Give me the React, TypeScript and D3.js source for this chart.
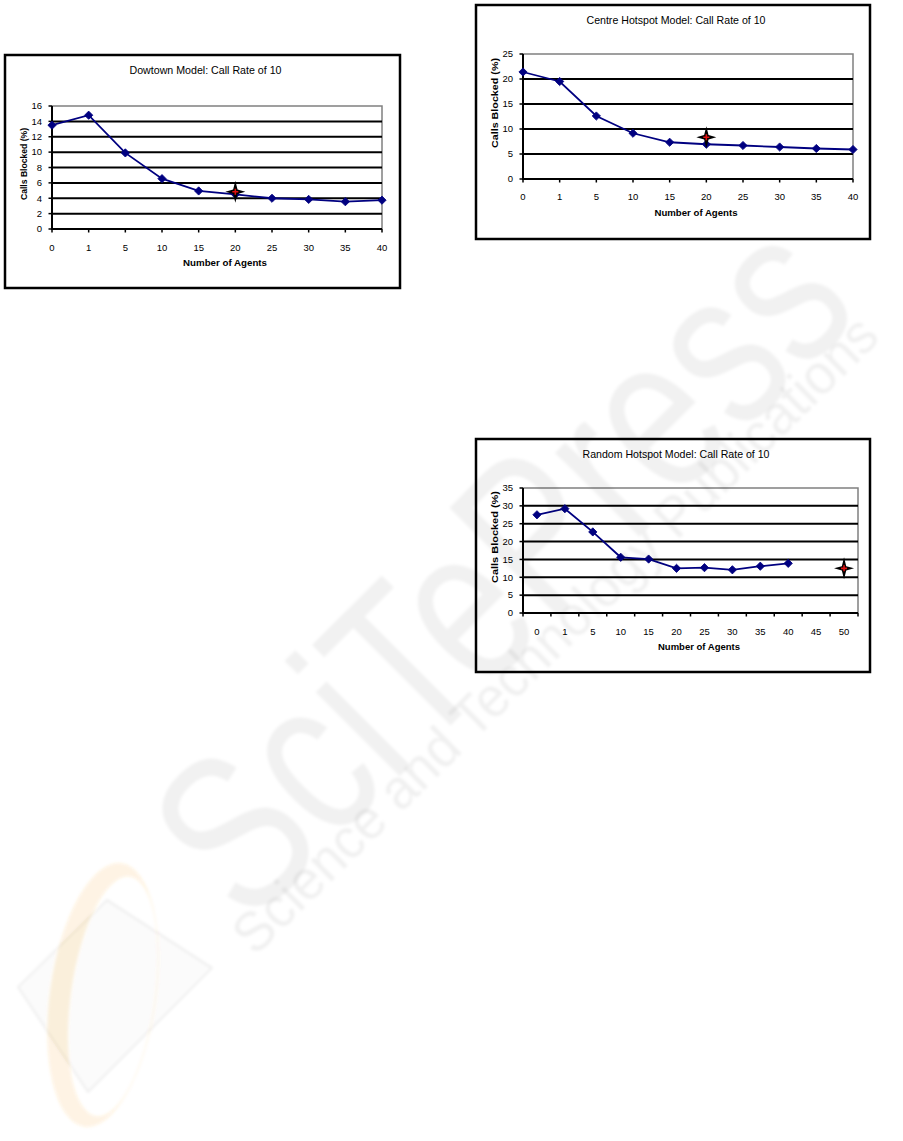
import React, { useEffect, useRef } from "react";
import * as d3 from "d3";

// Category labels for the number of agents
const agentsTen = ["0", "1", "5", "10", "15", "20", "25", "30", "35", "40"];
const agentsTwelve = ["0", "1", "5", "10", "15", "20", "25", "30", "35", "40", "45", "50"];

// Calls blocked (%) per agent count
const downtownBlocked = [13.5, 14.8, 9.9, 6.55, 4.95, 4.5, 4.0, 3.85, 3.55, 3.75];
const centreBlocked = [21.4, 19.5, 12.6, 9.15, 7.35, 6.95, 6.7, 6.4, 6.1, 5.9];
const randomBlocked = [27.5, 29.2, 22.7, 15.6, 15.1, 12.5, 12.7, 12.1, 13.1, 13.9];

// Single reference points shown with a star marker
const downtownStar = { agents: "20", blocked: 4.85 };
const centreStar = { agents: "20", blocked: 8.35 };
const randomStar = { agents: "50", blocked: 12.5 };

// Y-axis tick values
const downtownTicks = [0, 2, 4, 6, 8, 10, 12, 14, 16];
const centreTicks = [0, 5, 10, 15, 20, 25];
const randomTicks = [0, 5, 10, 15, 20, 25, 30, 35];

const titles = [
  "Dowtown Model: Call Rate of 10",
  "Centre Hotspot Model: Call Rate of 10",
  "Random Hotspot Model: Call Rate of 10",
];

type Panel = {
  title: string;
  categories: string[];
  values: number[];
  star: { agents: string; blocked: number };
  ticks: number[];
  banded: boolean;
  box: [number, number, number, number];
  plot: [number, number, number, number];
  titleY: number;
  titleLen: number;
  xLabelY: number;
  xTitle: [number, number, number];
  yTitle: [number, number, number];
};

const panels: Panel[] = [
  {
    title: titles[0],
    categories: agentsTen,
    values: downtownBlocked,
    star: downtownStar,
    ticks: downtownTicks,
    banded: false,
    box: [5, 55, 400, 288],
    plot: [52, 106, 382, 229],
    titleY: 70,
    titleLen: 152,
    xLabelY: 248,
    xTitle: [225, 263, 84],
    yTitle: [24, 164, 72],
  },
  {
    title: titles[1],
    categories: agentsTen,
    values: centreBlocked,
    star: centreStar,
    ticks: centreTicks,
    banded: false,
    box: [476, 5, 870, 239],
    plot: [523, 54, 853, 179],
    titleY: 20,
    titleLen: 179,
    xLabelY: 197,
    xTitle: [696, 213, 83],
    yTitle: [494.5, 103, 90],
  },
  {
    title: titles[2],
    categories: agentsTwelve,
    values: randomBlocked,
    star: randomStar,
    ticks: randomTicks,
    banded: true,
    box: [476, 439, 870, 672],
    plot: [523, 488, 858, 613],
    titleY: 454,
    titleLen: 187,
    xLabelY: 632,
    xTitle: [699, 647, 82],
    yTitle: [494.5, 537, 92],
  },
];

const FONT = "'Liberation Sans', Arial, sans-serif";
const NAVY = "#000080";

// Four-pointed star outline centred on the origin
function starPath(rx: number, ry: number, waist: number) {
  const p = d3.path();
  p.moveTo(0, -ry);
  p.lineTo(waist, -waist);
  p.lineTo(rx, 0);
  p.lineTo(waist, waist);
  p.lineTo(0, ry);
  p.lineTo(-waist, waist);
  p.lineTo(-rx, 0);
  p.lineTo(-waist, -waist);
  p.closePath();
  return p.toString();
}

// Closed ellipse outline centred at (cx, 0)
function ellipsePath(cx: number, rx: number, ry: number) {
  return `M${cx},${-ry}A${rx},${ry} 0 1,0 ${cx},${ry}A${rx},${ry} 0 1,0 ${cx},${-ry}Z`;
}

function drawPanel(root: d3.Selection<SVGGElement, unknown, null, undefined>, cfg: Panel) {
  const [bx0, by0, bx1, by1] = cfg.box;
  const [px0, py0, px1, py1] = cfg.plot;
  const g = root.append("g");

  g.append("rect")
    .attr("x", bx0)
    .attr("y", by0)
    .attr("width", bx1 - bx0)
    .attr("height", by1 - by0)
    .attr("fill", "#fff")
    .attr("stroke", "#000")
    .attr("stroke-width", 2.5);

  const yMax = cfg.ticks[cfg.ticks.length - 1];
  const y = d3.scaleLinear().domain([0, yMax]).range([py1, py0]);

  let xPos: (c: string) => number;
  let tickXs: number[];
  if (cfg.banded) {
    const xb = d3.scaleBand<string>().domain(cfg.categories).range([px0, px1]).padding(0);
    xPos = (c) => (xb(c) as number) + xb.bandwidth() / 2;
    tickXs = cfg.categories.map((c) => xb(c) as number).concat([px1]);
  } else {
    const xp = d3.scalePoint<string>().domain(cfg.categories).range([px0, px1]).padding(0);
    xPos = (c) => xp(c) as number;
    tickXs = cfg.categories.map((c) => xp(c) as number);
  }

  // plot area frame (top and right edges in grey)
  g.append("path")
    .attr("d", `M${px0},${py0}H${px1}V${py1}`)
    .attr("fill", "none")
    .attr("stroke", "#808080")
    .attr("stroke-width", 1.5);

  // horizontal gridlines
  g.selectAll("line.grid")
    .data(cfg.ticks.filter((t) => t > 0 && t < yMax))
    .join("line")
    .attr("class", "grid")
    .attr("x1", px0)
    .attr("x2", px1)
    .attr("y1", (d) => y(d))
    .attr("y2", (d) => y(d))
    .attr("stroke", "#000")
    .attr("stroke-width", 2);

  // axes
  g.append("line")
    .attr("x1", px0)
    .attr("x2", px0)
    .attr("y1", py0)
    .attr("y2", py1)
    .attr("stroke", "#000")
    .attr("stroke-width", 2);
  g.append("line")
    .attr("x1", px0 - 1)
    .attr("x2", px1)
    .attr("y1", py1)
    .attr("y2", py1)
    .attr("stroke", "#000")
    .attr("stroke-width", 2);

  g.selectAll("line.ytick")
    .data(cfg.ticks)
    .join("line")
    .attr("class", "ytick")
    .attr("x1", px0 - 3.5)
    .attr("x2", px0)
    .attr("y1", (d) => y(d))
    .attr("y2", (d) => y(d))
    .attr("stroke", "#000")
    .attr("stroke-width", 1.5);

  g.selectAll("line.xtick")
    .data(tickXs)
    .join("line")
    .attr("class", "xtick")
    .attr("x1", (d) => d)
    .attr("x2", (d) => d)
    .attr("y1", py1)
    .attr("y2", py1 + 3.5)
    .attr("stroke", "#000")
    .attr("stroke-width", 1.5);

  // tick labels
  g.selectAll("text.ylab")
    .data(cfg.ticks)
    .join("text")
    .attr("class", "ylab")
    .attr("x", px0 - 10)
    .attr("y", (d) => y(d))
    .attr("dy", "0.35em")
    .attr("text-anchor", "end")
    .attr("font-family", FONT)
    .attr("font-size", 9.5)
    .text((d) => String(d));

  g.selectAll("text.xlab")
    .data(cfg.categories)
    .join("text")
    .attr("class", "xlab")
    .attr("x", (d) => xPos(d))
    .attr("y", cfg.xLabelY)
    .attr("dy", "0.35em")
    .attr("text-anchor", "middle")
    .attr("font-family", FONT)
    .attr("font-size", 9.5)
    .text((d) => d);

  // titles
  g.append("text")
    .attr("x", (bx0 + bx1) / 2 + 3)
    .attr("y", cfg.titleY)
    .attr("dy", "0.35em")
    .attr("text-anchor", "middle")
    .attr("font-family", FONT)
    .attr("font-size", 10.5)
    .attr("textLength", cfg.titleLen)
    .attr("lengthAdjust", "spacingAndGlyphs")
    .text(cfg.title);

  g.append("text")
    .attr("x", cfg.xTitle[0])
    .attr("y", cfg.xTitle[1])
    .attr("dy", "0.35em")
    .attr("text-anchor", "middle")
    .attr("font-family", FONT)
    .attr("font-weight", "bold")
    .attr("font-size", 9.5)
    .attr("textLength", cfg.xTitle[2])
    .attr("lengthAdjust", "spacingAndGlyphs")
    .text("Number of Agents");

  g.append("text")
    .attr("transform", `translate(${cfg.yTitle[0]},${cfg.yTitle[1]}) rotate(-90)`)
    .attr("dy", "0.35em")
    .attr("text-anchor", "middle")
    .attr("font-family", FONT)
    .attr("font-weight", "bold")
    .attr("font-size", 9.5)
    .attr("textLength", cfg.yTitle[2])
    .attr("lengthAdjust", "spacingAndGlyphs")
    .text("Calls Blocked (%)");

  // series line with diamond markers
  const pts = cfg.values.map((v, i) => ({ c: cfg.categories[i], v }));
  const line = d3
    .line<{ c: string; v: number }>()
    .x((d) => xPos(d.c))
    .y((d) => y(d.v));
  g.append("path")
    .attr("d", line(pts) as string)
    .attr("fill", "none")
    .attr("stroke", NAVY)
    .attr("stroke-width", 1.8);

  const diamond = d3.symbol().type(d3.symbolSquare).size(34);
  g.selectAll("path.mk")
    .data(pts)
    .join("path")
    .attr("class", "mk")
    .attr("d", diamond() as string)
    .attr("transform", (d) => `translate(${xPos(d.c)},${y(d.v)}) rotate(45)`)
    .attr("fill", NAVY)
    .attr("stroke", NAVY)
    .attr("stroke-width", 0.8);

  // star reference marker
  const sx = xPos(cfg.star.agents);
  const sy = y(cfg.star.blocked);
  const sg = g.append("g").attr("transform", `translate(${sx},${sy})`);
  sg.append("path").attr("d", starPath(10, 11, 2.2)).attr("fill", "#000");
  sg.append("path")
    .attr("d", "M-3,0H3M0,-3V3")
    .attr("stroke", "#e01010")
    .attr("stroke-width", 1.6);
}

function drawWatermark(root: d3.Selection<SVGGElement, unknown, null, undefined>) {
  const defs = root.append("defs");
  defs
    .append("filter")
    .attr("id", "soft")
    .attr("x", "-10%")
    .attr("y", "-10%")
    .attr("width", "120%")
    .attr("height", "120%")
    .append("feGaussianBlur")
    .attr("stdDeviation", 1.6);

  const w = root.append("g").attr("filter", "url(#soft)").style("pointer-events", "none");

  // publisher logo: crescent and tilted sheet
  const logo = w.append("g").attr("transform", "translate(103,995) rotate(8)");
  logo
    .append("path")
    .attr("d", ellipsePath(0, 53, 133) + ellipsePath(10, 42, 121))
    .attr("fill-rule", "evenodd")
    .attr("fill", "#f5a623")
    .attr("opacity", 0.13);
  w.append("path")
    .attr("d", "M107,900L212,968L88,1092L18,987Z")
    .attr("fill", "#000")
    .attr("fill-opacity", 0.015)
    .attr("stroke", "#000")
    .attr("stroke-opacity", 0.08)
    .attr("stroke-width", 1.5);

  w.append("text")
    .attr("transform", "translate(248,928) rotate(-45)")
    .attr("font-family", FONT)
    .attr("font-size", 225)
    .attr("textLength", 870)
    .attr("lengthAdjust", "spacingAndGlyphs")
    .attr("fill", "#000")
    .attr("fill-opacity", 0.055)
    .text("SciTePress");

  w.append("text")
    .attr("transform", "translate(255,957) rotate(-44.6)")
    .attr("font-family", FONT)
    .attr("font-size", 56)
    .attr("textLength", 880)
    .attr("lengthAdjust", "spacingAndGlyphs")
    .attr("fill", "#000")
    .attr("fill-opacity", 0.06)
    .text("Science and Technology Publications");
}

export default function App() {
  const ref = useRef<SVGSVGElement | null>(null);

  useEffect(() => {
    if (!ref.current) return;
    const svg = d3.select(ref.current);
    svg.selectAll("*").remove();
    const root = svg.append("g") as d3.Selection<SVGGElement, unknown, null, undefined>;
    root.append("rect").attr("width", 903).attr("height", 1141).attr("fill", "#fff");
    panels.forEach((p) => drawPanel(root, p));
    drawWatermark(root);
  }, []);

  return (
    <svg
      ref={ref}
      width={903}
      height={1141}
      style={{ position: "absolute", left: 0, top: 0, display: "block" }}
    />
  );
}
